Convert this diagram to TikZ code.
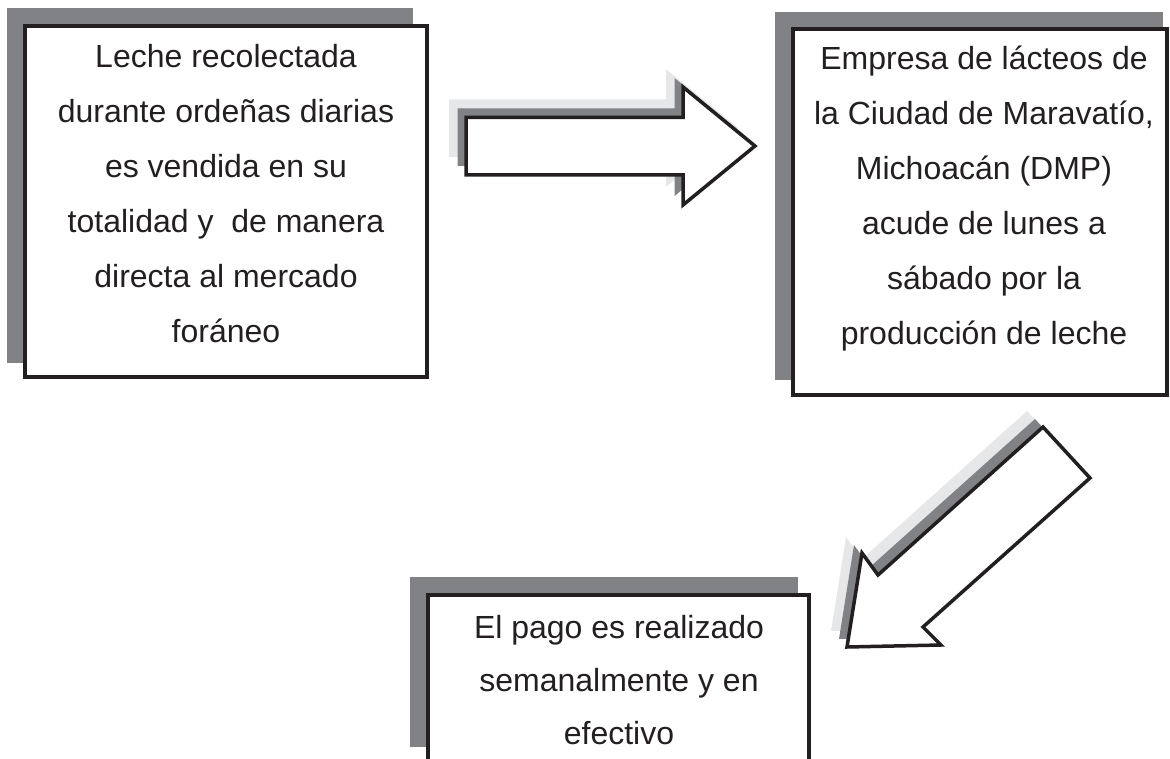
\documentclass[tikz,border=0pt]{standalone}
\usepackage{fontspec}
\setmainfont{Liberation Sans}
\definecolor{shadowdark}{HTML}{808285}
\definecolor{shadowlight}{HTML}{E6E7E8}
\definecolor{ink}{HTML}{231F20}
\begin{document}
\begin{tikzpicture}[x=1pt,y=-1pt,
  mainbox/.style={draw=ink,line width=3.5pt,fill=white},
  boxshadow/.style={fill=shadowdark},
  arrowmain/.style={draw=ink,line width=3.5pt,fill=white,line join=miter},
  arrowdark/.style={fill=shadowdark},
  arrowlight/.style={fill=shadowlight},
  lbl/.style={font=\fontsize{32}{55}\selectfont,align=center,inner sep=0pt,anchor=north,text=ink}]
\useasboundingbox (0,0) rectangle (1170,759);
\clip (0,0) rectangle (1170,759);
% box 1
\fill[boxshadow] (7,8) rectangle (413,363);
\draw[mainbox] (25,26) rectangle (427,377);
\node[lbl] (t1) at (226,44) {Leche recolectada\\durante ordeñas diarias\\es vendida en su\\totalidad y\ \ de manera\\directa al mercado\\foráneo};
% box 2
\fill[boxshadow] (775,12) rectangle (1163,380);
\draw[mainbox] (793,29) rectangle (1167,395);
\node[lbl] (t2) at (984,46) {Empresa de lácteos de\\la Ciudad de Maravatío,\\Michoacán (DMP)\\acude de lunes a\\sábado por la\\producción de leche};
% box 3
\fill[boxshadow] (410,577) rectangle (798,747);
\draw[mainbox] (428,595) rectangle (809,800);
\node[lbl,font=\fontsize{32}{53}\selectfont] (t3) at (619,615) {El pago es realizado\\semanalmente y en\\efectivo};
% right arrow
\foreach \dx/\dy/\st in {-17/-18/arrowlight,-8.5/-9/arrowdark}{
  \fill[\st,shift={(\dx,\dy)}] (466,117.5) -- (683,117.5) -- (683,87) -- (755,146) -- (683,205) -- (683,175) -- (466,175) -- cycle;
}
\draw[arrowmain] (466,117.5) coordinate (ra1) -- (683,117.5) -- (683,87) -- (755,146) coordinate (ratip) -- (683,205) -- (683,175) -- (466,175) -- cycle;
% diagonal arrow
\foreach \dx/\dy/\st in {-16/-16/arrowlight,-8/-8/arrowdark}{
  \fill[\st,shift={(\dx,\dy)}] (1043,427) -- (1090,478) -- (923,627) -- (941,645) -- (847,647) -- (862,553) -- (878,575) -- cycle;
}
\draw[arrowmain] (1043,427) -- (1090,478) -- (923,627) -- (941,645) -- (847,647) coordinate (datip) -- (862,553) -- (878,575) -- cycle;
\end{tikzpicture}
\end{document}
